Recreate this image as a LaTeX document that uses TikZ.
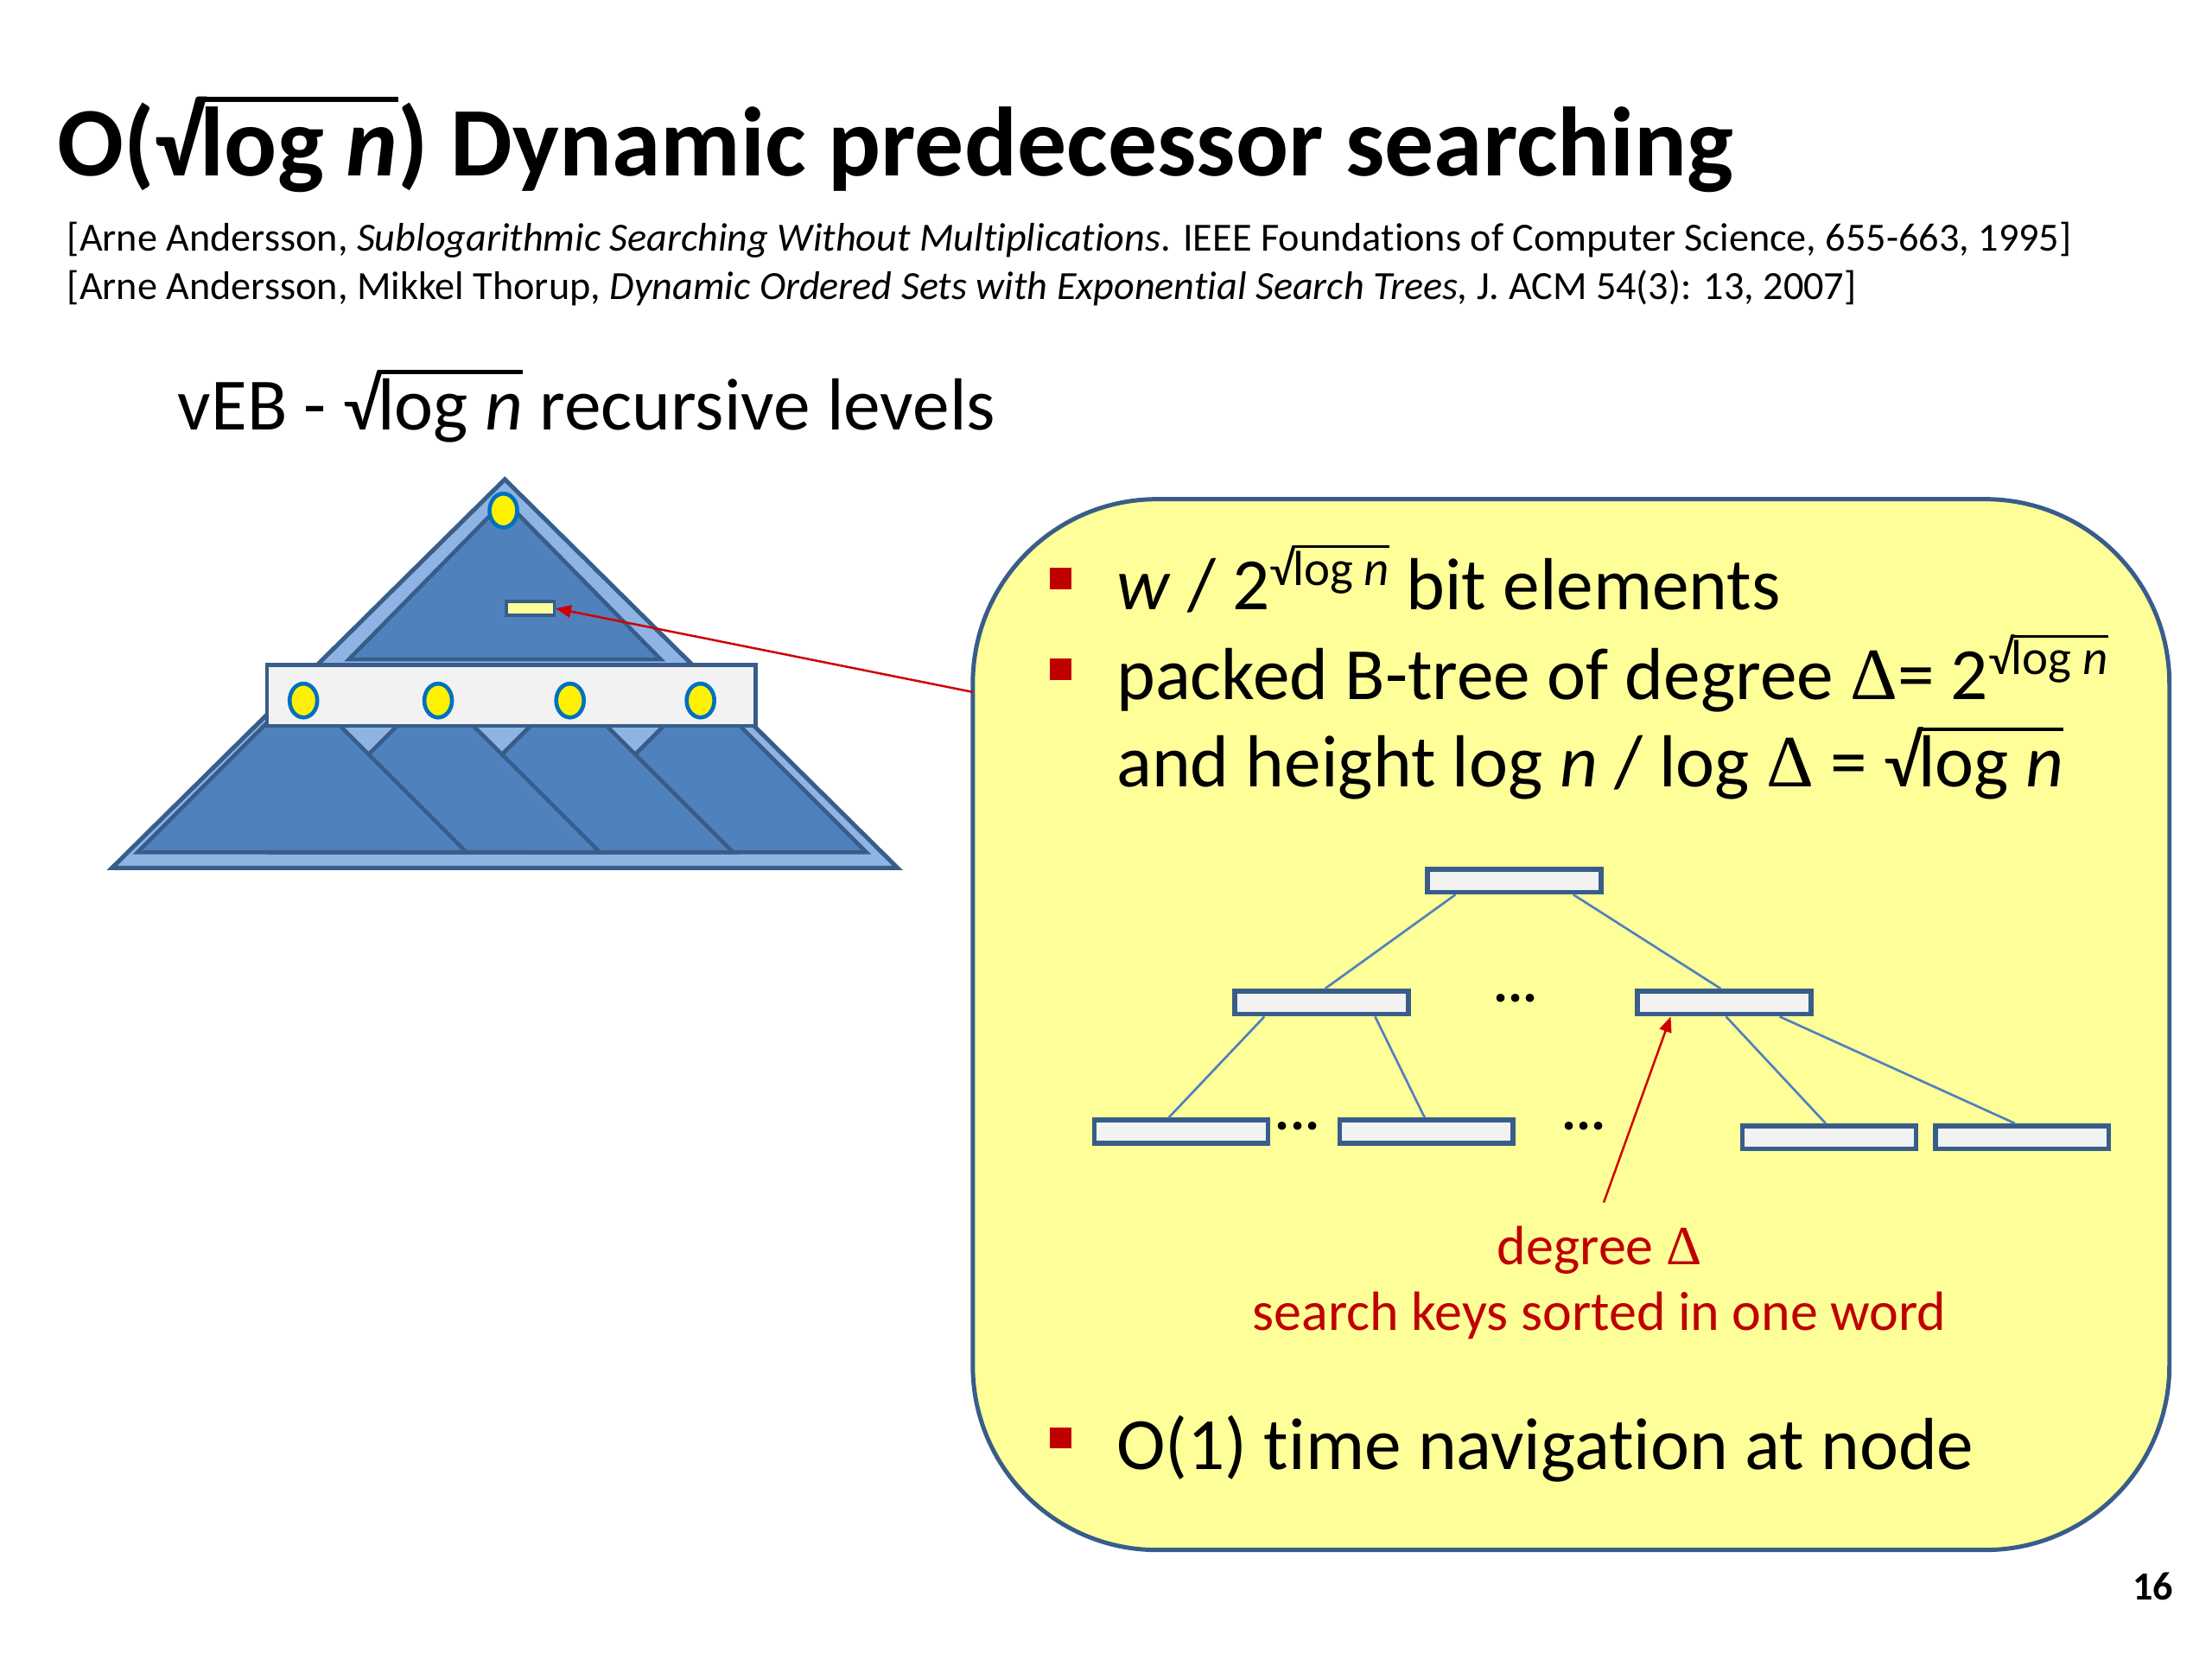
\documentclass[tikz,border=0pt]{standalone}
\usepackage{fontspec}
\setmainfont{Carlito}[Ligatures=NoCommon]
\newfontfamily\deltafont{Liberation Serif}
\usetikzlibrary{arrows.meta,shapes.geometric,calc}
\definecolor{darkb}{HTML}{385D8A}
\definecolor{midb}{HTML}{4F81BD}
\definecolor{lightb}{HTML}{8EB4E3}
\definecolor{rectgray}{HTML}{F2F2F2}
\definecolor{beadb}{HTML}{0070C0}
\definecolor{boxyel}{HTML}{FFFF99}
\definecolor{redd}{HTML}{C00000}
\definecolor{arrred}{HTML}{D00000}
\newcommand\rootof[1]{\setbox2\hbox{√}\setbox0\hbox{#1}\copy2\relax\kern-0.03em\rlap{\raisebox{\dimexpr\ht2-0.05em}{\rule{\wd0}{0.05em}}}\box0\relax}
\newcommand\Dl{{\deltafont Δ}}
\begin{document}
\begin{tikzpicture}[x=0.46154pt,y=-0.46154pt,
  tri/.style={fill=midb,draw=darkb,line width=1.3pt,line join=miter},
  keybox/.style={rectangle,draw=darkb,fill=rectgray,line width=1.6pt,minimum width=56.5pt,minimum height=7.5pt,inner sep=0pt},
  bead/.style={ellipse,fill=yellow,draw=beadb,line width=1.3pt,minimum width=9pt,minimum height=11pt,inner sep=0pt},
  link/.style={draw=midb,line width=0.75pt},
  redarrow/.style={draw=arrred,line width=0.7pt,-{Triangle[length=5pt,width=4pt]}},
  bulletsq/.style={rectangle,fill=redd,minimum width=6.8pt,minimum height=7pt,inner sep=0pt},
  txt/.style={anchor=base west,inner sep=0pt,text=black}]
\useasboundingbox (0,0) rectangle (1560,1170);
% title and references
\node[txt] (title) at (40,124) {\fontsize{32}{38}\selectfont\bfseries O(\rootof{log \textit{n}}) Dynamic predecessor searching};
\node[txt] (ref1) at (47,177) {\fontsize{13}{15}\selectfont [Arne Andersson, \textit{Sublogarithmic Searching Without Multiplications}. IEEE Foundations of Computer Science, 655-663, 1995]};
\node[txt] (ref2) at (47,211) {\fontsize{13}{15}\selectfont [Arne Andersson, Mikkel Thorup, \textit{Dynamic Ordered Sets with Exponential Search Trees,} J. ACM 54(3): 13, 2007]};
\node[txt] (veb) at (125,303) {\fontsize{24}{28}\selectfont vEB - \rootof{log \textit{n}} recursive levels};
% yellow box
\node[draw=darkb,fill=boxyel,line width=1.4pt,rounded corners=60pt,minimum width=389.5pt,minimum height=342pt,inner sep=0pt] (infobox) at (1108,722.5) {};
% pyramid
\draw[fill=lightb,draw=darkb,line width=1.4pt,line join=miter] (356,338) -- (79,612) -- (633,612) -- cycle;
\draw[tri] (356,353) -- (246,465) -- (466,465) -- cycle;
\foreach \ax in {495,401,307,213}{
  \draw[tri] (\ax,485) -- (\ax-116,601) -- (\ax+116,601) -- cycle;
}
\node[rectangle,draw=darkb,fill=rectgray,line width=1.3pt,minimum width=159pt,minimum height=19.8pt,inner sep=0pt] (band) at (360.5,490.5) {};
\node[bead] (e0) at (355,360) {};
\node[bead] (e1) at (214,494) {};
\node[bead] (e2) at (309,494) {};
\node[bead] (e3) at (402,494) {};
\node[bead] (e4) at (494,494) {};
\node[rectangle,draw=darkb,fill=boxyel,line width=1pt,minimum width=15.5pt,minimum height=4.6pt,inner sep=0pt] (keyrect) at (374,429) {};
\coordinate (boxpt) at (686,488);
\draw[redarrow] (boxpt) -- (keyrect.east);
% bullets
\node[bulletsq] (b1) at (748,408) {};
\node[bulletsq] (b2) at (748,472) {};
\node[bulletsq] (b3) at (748,1014) {};
\node[txt] (t1) at (787,430) {\fontsize{24}{28}\selectfont \textit{w} / 2\raisebox{8pt}{\fontsize{16}{18}\selectfont\rootof{log \textit{n}}} bit elements};
\node[txt] (t2) at (787,493) {\fontsize{24}{28}\selectfont packed B-tree of degree \Dl= 2\raisebox{8pt}{\fontsize{16}{18}\selectfont\rootof{log \textit{n}}}};
\node[txt] (t3) at (787,555) {\fontsize{24}{28}\selectfont and height log \textit{n} / log \Dl{} = \rootof{log \textit{n}}};
\node[txt] (t4) at (787,1036) {\fontsize{24}{28}\selectfont O(1) time navigation at node};
% B-tree
\node[keybox] (root) at (1068,621) {};
\node[keybox] (ml) at (932,707) {};
\node[keybox] (mr) at (1216,707) {};
\node[keybox] (l1) at (833,798) {};
\node[keybox] (l2) at (1006,798) {};
\node[keybox] (l3) at (1290,802) {};
\node[keybox] (l4) at (1426,802) {};
\node[inner sep=0pt] (d1) at (1069,704) {\fontsize{18}{20}\selectfont\bfseries ...};
\node[inner sep=0pt] (d2) at (915,794) {\fontsize{18}{20}\selectfont\bfseries ...};
\node[inner sep=0pt] (d3) at (1117,794) {\fontsize{18}{20}\selectfont\bfseries ...};
\draw[link] ($(root.south west)!0.17!(root.south east)$) -- ($(ml.north west)!0.52!(ml.north east)$);
\draw[link] ($(root.south west)!0.83!(root.south east)$) -- ($(mr.north west)!0.48!(mr.north east)$);
\draw[link] ($(ml.south west)!0.18!(ml.south east)$) -- ($(l1.north west)!0.43!(l1.north east)$);
\draw[link] ($(ml.south west)!0.80!(ml.south east)$) -- ($(l2.north west)!0.49!(l2.north east)$);
\draw[link] ($(mr.south west)!0.51!(mr.south east)$) -- ($(l3.north west)!0.48!(l3.north east)$);
\draw[link] ($(mr.south west)!0.81!(mr.south east)$) -- ($(l4.north west)!0.46!(l4.north east)$);
\coordinate (lblpt) at (1131,848);
\draw[redarrow] (lblpt) -- ($(mr.south west)!0.2!(mr.south east)$);
\node[anchor=base,inner sep=0pt,text=redd] (lbl1) at (1128,892) {\fontsize{18}{22}\selectfont degree \Dl};
\node[anchor=base,inner sep=0pt,text=redd] (lbl2) at (1128,938) {\fontsize{18}{22}\selectfont search keys sorted in one word};
\node[anchor=base east,inner sep=0pt] (pg) at (1533,1128) {\fontsize{13}{15}\selectfont\bfseries 16};
\end{tikzpicture}
\end{document}
